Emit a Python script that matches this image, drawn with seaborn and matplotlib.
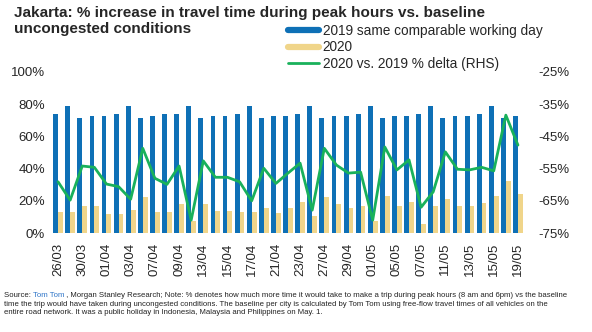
import matplotlib
matplotlib.use("Agg")
import matplotlib.pyplot as plt
import seaborn as sns
import pandas as pd
from matplotlib.lines import Line2D

dates = ['26/03', '27/03', '30/03', '31/03', '01/04', '02/04', '03/04', '06/04', '07/04', '08/04',
         '09/04', '10/04', '13/04', '14/04', '15/04', '16/04', '17/04', '20/04', '21/04', '22/04',
         '23/04', '24/04', '27/04', '28/04', '29/04', '30/04', '01/05', '04/05', '05/05', '06/05',
         '07/05', '08/05', '11/05', '12/05', '13/05', '14/05', '15/05', '18/05', '19/05']

vals_2019 = [73.7, 79.1, 71.6, 72.7, 72.7, 73.7, 79.1, 71.6, 72.7, 73.7,
             73.7, 79.1, 71.6, 72.7, 72.7, 73.7, 79.1, 71.6, 72.7, 72.7,
             73.7, 79.1, 71.6, 72.7, 72.7, 73.7, 79.1, 71.6, 72.7, 72.7,
             73.7, 79.1, 71.6, 72.7, 72.7, 73.7, 79.1, 71.6, 72.7]

vals_2020 = [13.3, 13.3, 16.5, 17.0, 11.9, 11.9, 14.0, 22.3, 13.3, 12.9,
             18.0, 7.7, 17.9, 13.8, 13.8, 13.3, 13.3, 15.8, 12.3, 15.3,
             19.2, 10.8, 22.1, 17.9, 15.3, 17.0, 7.7, 22.7, 16.5, 19.4,
             5.8, 16.5, 21.0, 16.5, 16.5, 18.5, 22.7, 32.0, 24.4]

delta = [-59.1, -64.8, -54.2, -54.6, -59.8, -60.6, -64.5, -48.7, -58.0, -59.9,
         -54.2, -71.0, -52.6, -57.7, -57.7, -59.1, -65.0, -54.9, -59.6, -56.4,
         -53.3, -67.9, -48.7, -53.9, -56.4, -56.1, -71.0, -48.3, -55.4, -52.3,
         -67.0, -62.2, -49.8, -55.2, -55.4, -54.6, -55.7, -38.4, -47.7]

series_names = ['2019 same comparable working day', '2020', '2020 vs. 2019 % delta (RHS)']
left_ticks = [0, 20, 40, 60, 80, 100]
right_ticks = [-75, -65, -55, -45, -35, -25]
title_lines = ['Jakarta: % increase in travel time during peak hours vs. baseline',
               'uncongested conditions']

BLUE = '#0E70B6'
YELLOW = '#F0D58A'
GREEN = '#19B15B'

sns.set_style('white')
plt.rcParams['font.family'] = ['Liberation Sans', 'DejaVu Sans']

df = pd.DataFrame({
    'date': dates * 2,
    'value': vals_2019 + vals_2020,
    'series': [series_names[0]] * len(dates) + [series_names[1]] * len(dates),
})

W, H = 592, 332
fig = plt.figure(figsize=(W / 100, H / 100), dpi=100)
ax = fig.add_axes([52 / W, (H - 233) / H, (524 - 52) / W, (233 - 72) / H])

sns.barplot(data=df, x='date', y='value', hue='series', order=dates,
            palette=[BLUE, YELLOW], saturation=1, width=0.8, linewidth=0,
            ax=ax, legend=False)
ax.set_ylim(0, 100)
ax.set_xlim(-0.5, len(dates) - 0.5)
ax.set_yticks(left_ticks)
ax.set_yticklabels([f'{t}%' for t in left_ticks], fontsize=9.5)
ax.set_xticks(range(0, len(dates), 2))
ax.set_xticklabels(dates[::2], rotation=90, fontsize=9.5)
ax.tick_params(axis='x', length=0, pad=7)
ax.tick_params(axis='y', length=0, pad=5)
ax.set_xlabel('')
ax.set_ylabel('')

ax2 = ax.twinx()
sns.lineplot(x=list(range(len(dates))), y=delta, ax=ax2, color=GREEN, lw=2.0)
ax2.set_ylim(-75, -25)
ax2.set_yticks(right_ticks)
ax2.set_yticklabels([f'{t}%' for t in right_ticks], fontsize=9.5)
ax2.tick_params(axis='y', length=0, pad=10)
ax2.set_ylabel('')
ax2.set_xlim(-0.5, len(dates) - 0.5)

for a in (ax, ax2):
    for s in a.spines.values():
        s.set_visible(False)

handles = [Line2D([], [], color=BLUE, lw=4.5),
           Line2D([], [], color=YELLOW, lw=4.5),
           Line2D([], [], color=GREEN, lw=2.0)]
fig.legend(handles, series_names, loc='upper left',
           bbox_to_anchor=(288 / W, 1 - 24 / H), bbox_transform=fig.transFigure,
           frameon=False, fontsize=9.8, handlelength=2.25, handletextpad=0.3,
           labelspacing=0.18, borderpad=0, borderaxespad=0)

fig.text(14 / W, 1 - 6 / H, title_lines[0], ha='left', va='top', fontsize=11, fontweight='bold')
fig.text(14 / W, 1 - 22 / H, title_lines[1], ha='left', va='top', fontsize=11, fontweight='bold')

fs = 5.6
t1 = fig.text(4 / W, 1 - 292 / H, 'Source: ', ha='left', va='top', fontsize=fs, color='#222222')
t2 = ax.annotate('Tom Tom', xy=(1, 1), xycoords=t1, ha='left', va='top', fontsize=fs,
                 color='#2E75C8', annotation_clip=False)
t3 = ax.annotate(' , Morgan Stanley Research; Note: % denotes how much more time it would take to make '
                 'a trip during peak hours (8 am and 6pm) vs the baseline',
                 xy=(1, 1), xycoords=t2, ha='left', va='top', fontsize=fs, color='#222222',
                 annotation_clip=False)
fig.text(4 / W, 1 - 301 / H,
         'time the trip would have taken during uncongested conditions. The baseline per city is '
         'calculated by Tom Tom using free-flow travel times of all vehicles on the\n'
         'entire road network. It was a public holiday in Indonesia, Malaysia and Philippines on May. 1.',
         ha='left', va='top', fontsize=fs, color='#222222', linespacing=1.2)

fig.savefig('out.png', dpi=100)
